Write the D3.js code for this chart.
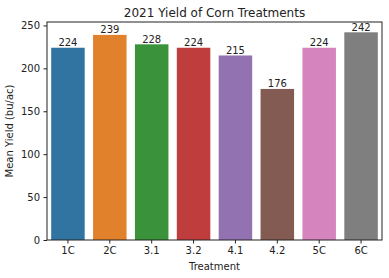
<!DOCTYPE html>
<meta charset="utf-8">
<script src="https://d3js.org/d3.v7.min.js"></script>
<style>
  body{ margin:0; background:white; }
  text{ font-family: "DejaVu Sans", sans-serif; fill:#222; }
</style>
<body>
<script>
    var width = 389, height = 278;
    var margin = {top: 22, right: 7, bottom: 38, left: 47};

    // data
    var treatments = ["1C", "2C", "3.1", "3.2", "4.1", "4.2", "5C", "6C"];
    var yields = [224, 239, 228, 224, 215, 176, 224, 242];
    var colors = ["#3274a1", "#e1812c", "#3a923a", "#c03d3e", "#9372b2", "#845b53", "#d684bd", "#7f7f7f"];
    var yTicks = [0, 50, 100, 150, 200, 250];

    var svg = d3.select("body").append("svg")
        .attr("width", width)
        .attr("height", height);

    var x = d3.scaleBand()
        .domain(treatments)
        .range([margin.left, width - margin.right])
        .paddingInner(0.2)
        .paddingOuter(0.1);

    var y = d3.scaleLinear()
        .domain([0, 254])
        .range([height - margin.bottom, margin.top]);

    // Bars
    svg.selectAll("rect.bar")
        .data(yields)
        .enter().append("rect")
        .attr("class", "bar")
        .attr("x", function(d, i) { return x(treatments[i]); })
        .attr("y", function(d) { return y(d); })
        .attr("width", x.bandwidth())
        .attr("height", function(d) { return y(0) - y(d); })
        .attr("fill", function(d, i) { return colors[i]; });

    // Bar labels
    svg.selectAll("text.val")
        .data(yields)
        .enter().append("text")
        .attr("class", "val")
        .attr("x", function(d, i) { return x(treatments[i]) + x.bandwidth() / 2; })
        .attr("y", function(d) { return y(d) - 1.5; })
        .attr("text-anchor", "middle")
        .style("font-size", "10px")
        .text(function(d) { return d; });

    // Axes
    var xAxis = svg.append("g")
        .attr("transform", "translate(0," + y(0) + ")")
        .call(d3.axisBottom(x).tickSize(3.5).tickPadding(3.5));
    var yAxis = svg.append("g")
        .attr("transform", "translate(" + margin.left + ",0)")
        .call(d3.axisLeft(y).tickValues(yTicks).tickSize(3.5).tickPadding(3.5));

    [xAxis, yAxis].forEach(function(g) {
        g.select(".domain").remove();
        g.selectAll("line").attr("stroke", "#222");
        g.selectAll("text").style("font-size", "10px").attr("fill", "#222");
    });

    // Frame
    svg.append("rect")
        .attr("x", margin.left)
        .attr("y", margin.top)
        .attr("width", width - margin.left - margin.right)
        .attr("height", height - margin.top - margin.bottom)
        .attr("fill", "none")
        .attr("stroke", "#222")
        .attr("stroke-width", 1);

    // Titles
    var cx = (margin.left + width - margin.right) / 2;
    svg.append("text")
        .attr("x", cx)
        .attr("y", 17)
        .attr("text-anchor", "middle")
        .style("font-size", "12px")
        .text("2021 Yield of Corn Treatments");

    svg.append("text")
        .attr("x", cx)
        .attr("y", 270)
        .attr("text-anchor", "middle")
        .style("font-size", "10px")
        .text("Treatment");

    svg.append("text")
        .attr("transform", "translate(12.5," + ((margin.top + height - margin.bottom) / 2) + ") rotate(-90)")
        .attr("text-anchor", "middle")
        .style("font-size", "10px")
        .text("Mean Yield (bu/ac)");
</script>
</body>
